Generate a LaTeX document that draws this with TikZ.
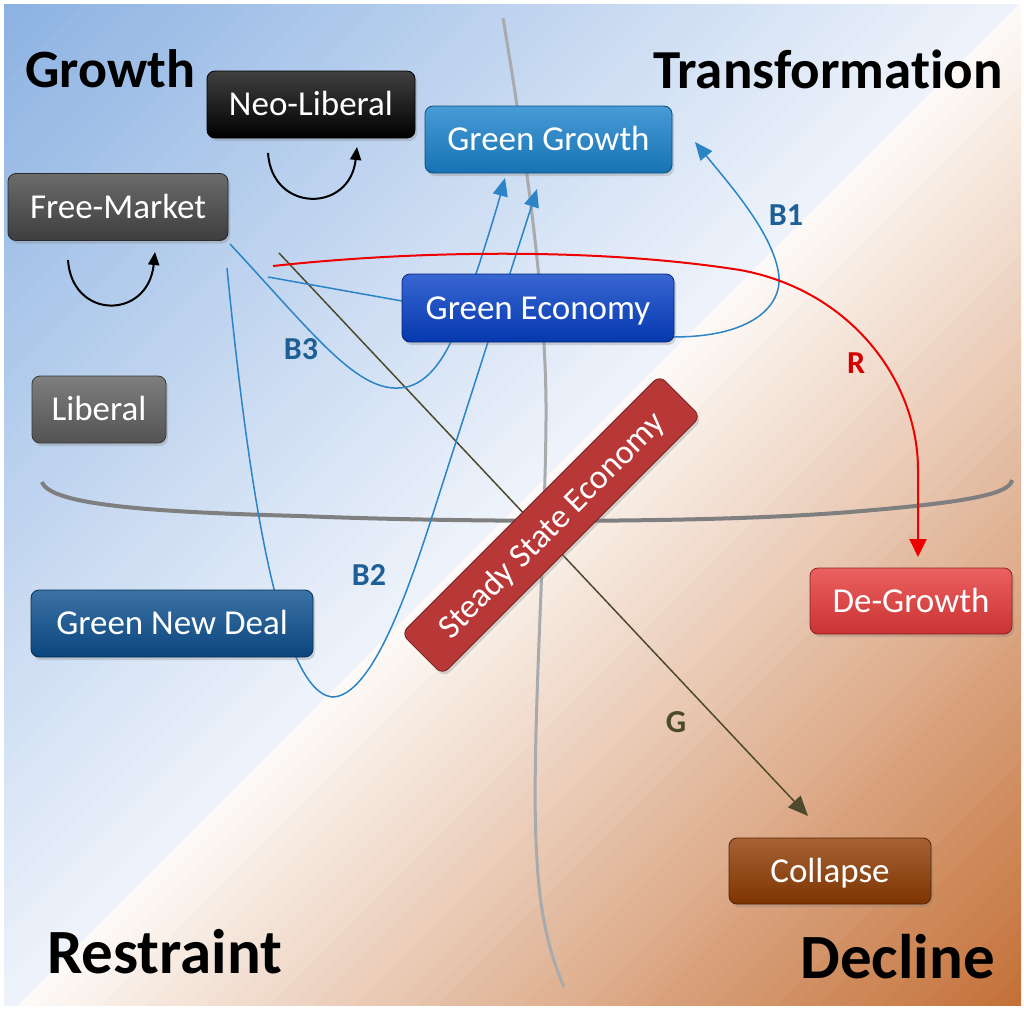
\documentclass[tikz,border=0pt]{standalone}
\usepackage{fontspec}
\setmainfont[Ligatures=NoCommon]{Carlito}
\usetikzlibrary{arrows.meta,shadows}
\definecolor{bgBlue}{RGB}{140,178,226}
\definecolor{bgBlueW}{RGB}{238,243,251}
\definecolor{bgBrW}{RGB}{253,249,246}
\definecolor{bgBrown}{RGB}{196,112,56}
\definecolor{cNeo}{RGB}{0,0,0}
\definecolor{cFree}{RGB}{70,70,70}
\definecolor{cGG}{RGB}{26,130,204}
\definecolor{cGE}{RGB}{6,64,198}
\definecolor{cLib}{RGB}{94,94,94}
\definecolor{cGND}{RGB}{11,79,142}
\definecolor{cDeG}{RGB}{230,57,57}
\definecolor{cCol}{RGB}{143,59,2}
\definecolor{cSS}{RGB}{184,56,56}
\definecolor{lnBlue}{RGB}{42,132,198}
\definecolor{lbBlue}{RGB}{30,95,150}
\definecolor{lnRed}{RGB}{238,0,0}
\definecolor{lbRed}{RGB}{212,0,0}
\definecolor{lnOlive}{RGB}{77,74,44}
\definecolor{axV}{RGB}{168,170,174}
\definecolor{axH}{RGB}{127,127,127}
\tikzset{
  box/.style={rounded corners=8pt, minimum height=67pt, inner sep=0pt, text=white,
    font=\fontsize{35}{40}\selectfont, text height=22pt, text depth=0pt, line width=0.8pt,
    drop shadow={shadow xshift=2pt, shadow yshift=-3pt, opacity=0.3}},
  shadebox/.style={box, top color=#1!80!white, middle color=#1, bottom color=#1!88!black, draw=#1!60!black},
  title/.style={inner sep=0pt, font=\fontsize{54}{60}\selectfont\bfseries},
  bigtitle/.style={inner sep=0pt, font=\fontsize{63}{70}\selectfont\bfseries},
  lbl/.style={inner sep=0pt, font=\fontsize{32}{36}\selectfont\bfseries, text height=20pt, text depth=0pt},
  bluearrow/.style={draw=lnBlue, line width=1.5pt, -{Triangle[length=18pt,width=15pt]}},
  blueline/.style={draw=lnBlue, line width=1.5pt},
  redarrow/.style={draw=lnRed, line width=2pt, -{Triangle[length=18pt,width=17pt]}},
  olivearrow/.style={draw=lnOlive, line width=1.5pt, -{Triangle[length=20pt,width=17pt]}},
  blackarrow/.style={draw=black, line width=2pt, -{Triangle[length=13pt,width=11pt]}},
}
\begin{document}
\begin{tikzpicture}[x=1pt,y=-1pt]
\useasboundingbox (0,0) rectangle (1024,1009);
\fill[white] (0,0) rectangle (1024,1009);
% background gradient
\begin{scope}
\clip (4,4) rectangle (1021,1005);
\foreach \k in {0,...,47}{
  \pgfmathsetmacro{\ca}{\k*21.3125}
  \pgfmathsetmacro{\cb}{(\k+1)*21.3125+1.5}
  \pgfmathtruncatemacro{\pc}{round(100*\k/47)}
  \fill[bgBlueW!\pc!bgBlue] (\ca+30,-30) -- (\cb+30,-30) -- (\cb-1040,1040) -- (\ca-1040,1040) -- cycle;
}
\foreach \k in {0,...,47}{
  \pgfmathsetmacro{\ca}{1023+\k*21.0417}
  \pgfmathsetmacro{\cb}{1023+(\k+1)*21.0417+1.5}
  \pgfmathtruncatemacro{\pc}{round(100*\k/47)}
  \fill[bgBrown!\pc!bgBrW] (\ca+30,-30) -- (\cb+30,-30) -- (\cb-1040,1040) -- (\ca-1040,1040) -- cycle;
}
\end{scope}
% axes
\coordinate (vtop) at (503,18);
\coordinate (vbot) at (564,987);
\coordinate (hl) at (42,482);
\coordinate (hr) at (1012,480);
\draw[axV, line width=3pt] (vtop) .. controls (525,150) and (547,300) .. (546,420)
   .. controls (545,560) and (530,760) .. (537,860) .. controls (540,920) and (552,960) .. (vbot);
\draw[axH, line width=4pt] (hl) .. controls (50,505) and (150,512) .. (300,516)
   .. controls (450,522) and (700,524) .. (850,512) .. controls (960,503) and (1010,495) .. (hr);
% connector end points
\coordinate (gs) at (279,253);
\coordinate (ge) at (808,816);
\coordinate (b3s) at (230,244);
\coordinate (b3e) at (505,178);
\coordinate (b2s) at (227,268);
\coordinate (b2e) at (537,189);
\coordinate (fm2) at (268,277);
\coordinate (ge2) at (402,301);
\coordinate (b1s) at (673,337);
\coordinate (b1e) at (695,142);
\coordinate (rs) at (273,266);
\coordinate (re) at (918,557);
\coordinate (n1) at (268,153);
\coordinate (n2) at (357,147);
\coordinate (f1) at (68,260);
\coordinate (f2) at (155,252);
% connectors
\draw[olivearrow] (gs) -- (ge);
\draw[bluearrow] (b3s) .. controls (310,330) and (355,390) .. (398,388)
   .. controls (425,388) and (445,360) .. (458,325) .. controls (475,280) and (495,215) .. (b3e);
\draw[bluearrow] (b2s) .. controls (245,450) and (275,690) .. (332,697)
   .. controls (370,697) and (405,600) .. (430,523) -- (b2e);
\draw[blueline] (fm2) -- (ge2);
\draw[bluearrow] (b1s) .. controls (760,337) and (785,300) .. (778,270)
   .. controls (770,230) and (730,185) .. (b1e);
\draw[redarrow] (rs) .. controls (420,250) and (600,248) .. (740,270)
   .. controls (850,290) and (918,380) .. (918,470) -- (re);
\draw[blackarrow] (n1) .. controls (272,213) and (350,213) .. (n2);
\draw[blackarrow] (f1) .. controls (72,320) and (148,320) .. (f2);
% boxes
\node[shadebox=cNeo, minimum width=208pt, top color=black!75!white, middle color=black, bottom color=black] (neo) at (311,104.5) {Neo-Liberal};
\node[shadebox=cFree, minimum width=220pt] (free) at (118,207) {Free-Market};
\node[shadebox=cGG, minimum width=247pt] (gg) at (548.5,139.5) {Green Growth};
\node[shadebox=cGE, minimum width=272pt, minimum height=68pt] (geco) at (538,308) {Green Economy};
\node[shadebox=cLib, minimum width=134pt] (lib) at (99,409.5) {Liberal};
\node[shadebox=cGND, minimum width=282pt] (gnd) at (172,623.5) {Green New Deal};
\node[shadebox=cDeG, minimum width=202pt, minimum height=66pt] (deg) at (911,601) {De-Growth};
\node[shadebox=cCol, minimum width=202pt, minimum height=66pt] (col) at (830,871) {Collapse};
\node[box, rotate=45, minimum width=365pt, minimum height=58pt, fill=cSS, draw=cSS!60!black,
      font=\fontsize{34}{40}\selectfont] (ss) at (551,525) {Steady State Economy};
% labels
\node[lbl, text=lbBlue] (lb1) at (786,215) {B1};
\node[lbl, text=lbBlue] (lb2) at (369,575) {B2};
\node[lbl, text=lbBlue] (lb3) at (301,349) {B3};
\node[lbl, text=lbRed] (lr) at (856,363) {R};
\node[lbl, text=lnOlive] (lg) at (676,722) {G};
% titles
\node[title, anchor=base west] (tg) at (25,87) {Growth};
\node[title, font=\fontsize{55}{60}\selectfont\bfseries, anchor=base east] (tt) at (1003,88) {Transformation};
\node[bigtitle, anchor=base west] (tr) at (47,973) {Restraint};
\node[bigtitle, anchor=base east] (td) at (995,978) {Decline};
\end{tikzpicture}
\end{document}
